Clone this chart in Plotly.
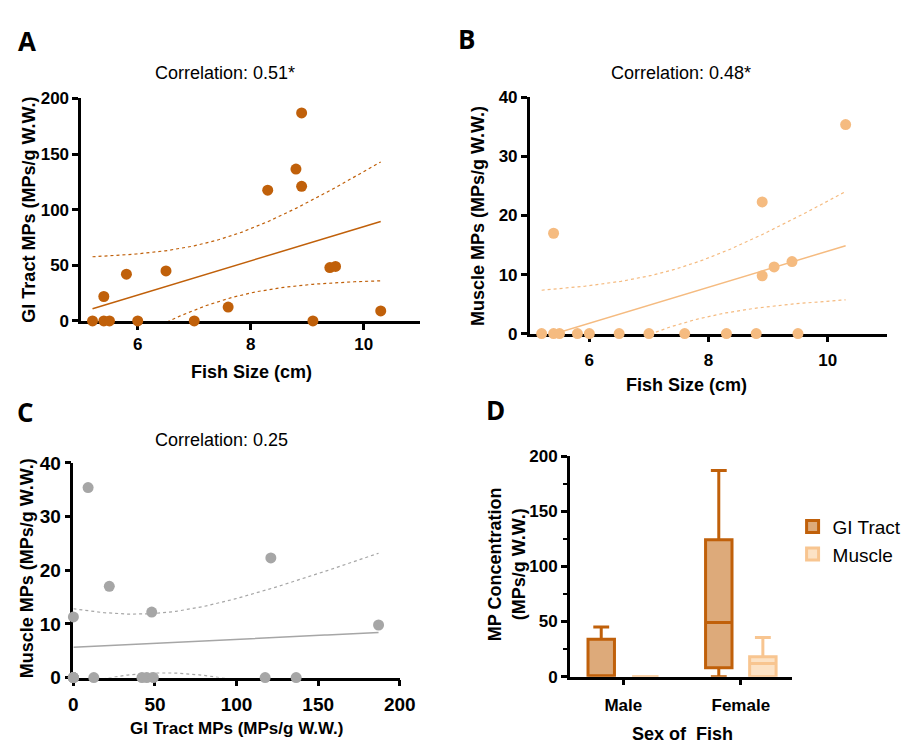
import numpy as np
import plotly.graph_objects as go

# ---------------- data ----------------
fish_size = [5.2, 5.4, 5.4, 5.5, 5.8, 6.0, 6.5, 7.0, 7.6, 8.3, 8.8, 8.9, 8.9, 9.1, 9.4, 9.5, 10.3]
gi_mps = [0, 22, 0, 0, 42, 0, 45, 0, 12.5, 117.5, 136.5, 187, 121, 0, 48, 49, 9]
muscle_mps = [0, 17, 0, 0, 0, 0, 0, 0, 0, 0, 0, 9.8, 22.3, 11.3, 12.2, 0, 35.4]

corr_titles = ["Correlation: 0.51*", "Correlation: 0.48*", "Correlation: 0.25"]

sex_categories = ["Male", "Female"]
gi_box = dict(lowerfence=[0, 0], q1=[0, 8], median=[0, 49], q3=[34, 124], upperfence=[45, 187])
mus_box = dict(lowerfence=[0, 0], q1=[0, 0], median=[0, 12], q3=[0, 18], upperfence=[0, 35.4])

T_CRIT = 2.131  # t(0.975, df=15)

# ---------------- styles ----------------
W, H = 919, 744
COL_A = "#C0600A"
COL_B = "#F5BB80"
COL_C = "#A6A6A6"
GI_LINE, GI_FILL = "#C0600A", "#DDAA7A"
MU_LINE, MU_FILL = "#F8C590", "#FCE2C5"
FONT = "Liberation Sans"


def px_x(p):
    return p / W


def px_y(p):
    return 1 - p / H


def fit_band(x, y):
    x = np.asarray(x, float)
    y = np.asarray(y, float)
    n = len(x)
    b, a = np.polyfit(x, y, 1)
    resid = y - (a + b * x)
    s = np.sqrt(np.sum(resid ** 2) / (n - 2))
    xm = x.mean()
    sxx = np.sum((x - xm) ** 2)
    xs = np.linspace(x.min(), x.max(), 120)
    yh = a + b * xs
    se = s * np.sqrt(1 / n + (xs - xm) ** 2 / sxx)
    return xs, yh, yh - T_CRIT * se, yh + T_CRIT * se


fig = go.Figure()


def add_scatter_panel(x, y, col, xa, ya):
    xs, yh, lo, hi = fit_band(x, y)
    for band in (lo, hi):
        fig.add_trace(go.Scatter(x=xs, y=band, mode="lines", xaxis=xa, yaxis=ya,
                                 line=dict(color=col, width=1.2, dash="dot"),
                                 showlegend=False, hoverinfo="skip"))
    fig.add_trace(go.Scatter(x=xs, y=yh, mode="lines", xaxis=xa, yaxis=ya,
                             line=dict(color=col, width=1.5), showlegend=False))
    fig.add_trace(go.Scatter(x=x, y=y, mode="markers", xaxis=xa, yaxis=ya,
                             marker=dict(color=col, size=11, line=dict(width=0)),
                             cliponaxis=False, showlegend=False))


add_scatter_panel(fish_size, gi_mps, COL_A, "x", "y")
add_scatter_panel(fish_size, muscle_mps, COL_B, "x2", "y2")
add_scatter_panel(gi_mps, muscle_mps, COL_C, "x3", "y3")

# box plots (panel D)
fig.add_trace(go.Box(x=sex_categories, name="GI Tract", xaxis="x4", yaxis="y4",
                     fillcolor=GI_FILL, line=dict(color=GI_LINE, width=3),
                     whiskerwidth=0.6, boxpoints=False, **gi_box))
fig.add_trace(go.Box(x=sex_categories, name="Muscle", xaxis="x4", yaxis="y4",
                     fillcolor=MU_FILL, line=dict(color=MU_LINE, width=3),
                     whiskerwidth=0.6, boxpoints=False, **mus_box))

tickfont = dict(family=FONT, size=17, color="black", weight="bold")
tickfont_c = dict(family=FONT, size=19, color="black", weight="bold")
axis_common = dict(showline=True, linecolor="black", linewidth=2.5, ticks="outside",
                   ticklen=6, tickwidth=2.5, tickcolor="black", showgrid=False,
                   zeroline=False, layer="below traces")

fig.update_layout(
    width=W, height=H, margin=dict(l=0, r=0, t=0, b=0),
    paper_bgcolor="white", plot_bgcolor="white",
    boxmode="group", boxgap=0.25, boxgroupgap=0.4,
    xaxis=dict(domain=[px_x(78), px_x(425)], range=[5, 11], dtick=2, anchor="y",
               tickfont=tickfont, **axis_common),
    yaxis=dict(domain=[px_y(320), px_y(91)], range=[0, 200], dtick=50, anchor="x",
               tickfont=tickfont, **axis_common),
    xaxis2=dict(domain=[px_x(537), px_x(903)], range=[5, 11], dtick=2, anchor="y2",
                tickfont=tickfont, ticklabelstandoff=3, **axis_common),
    yaxis2=dict(domain=[px_y(333), px_y(90)], range=[0, 40], dtick=10, anchor="x2",
                tickfont=tickfont, **axis_common),
    xaxis3=dict(domain=[px_x(70), px_x(404)], range=[0, 200], dtick=50, anchor="y3",
                tickfont=tickfont_c, ticklabelstandoff=2, **axis_common),
    yaxis3=dict(domain=[px_y(687), px_y(466)], range=[0, 40], dtick=10, anchor="x3",
                tickfont=tickfont_c, **axis_common),
    xaxis4=dict(domain=[px_x(578), px_x(805)], type="category", categoryorder="array",
                categoryarray=sex_categories, range=[-0.455, 1.432], anchor="y4",
                tickfont=tickfont, ticklabelstandoff=5, **axis_common),
    yaxis4=dict(domain=[px_y(686), px_y(459)], range=[0, 200], dtick=50, anchor="x4",
                minor=dict(ticks="outside", ticklen=4, tickwidth=2, tickcolor="black", dtick=25),
                tickfont=tickfont, **axis_common),
    legend=dict(x=px_x(806), y=px_y(512), xanchor="left", yanchor="top",
                font=dict(family=FONT, size=19, color="black"), bgcolor="rgba(0,0,0,0)",
                tracegroupgap=6),
)

ann = []


def add_text(text, x, y, size=18, bold=True, angle=0, family=FONT, yanchor="middle", yabs=None):
    ann.append(dict(text=text, x=px_x(x), y=px_y(y) if yabs is None else yabs,
                    xref="paper", yref="paper",
                    showarrow=False, xanchor="center", yanchor=yanchor, textangle=angle,
                    borderpad=0,
                    font=dict(family=family, size=size, color="black",
                              weight="bold" if bold else "normal")))


# panel letters
add_text("A", 23, 32, size=26, family="Open Sans")
add_text("B", 472, 30, size=26, family="Open Sans")
add_text("C", 21, 414, size=26, family="Open Sans")
add_text("D", 502, 412, size=26, family="Open Sans")

# correlation titles
add_text(corr_titles[0], 225, 65, bold=False)
add_text(corr_titles[1], 692, 65, bold=False)
add_text(corr_titles[2], 222, 442, bold=False)

# axis titles
add_text("GI Tract MPs (MPs/g W.W.)", 237, 0, size=17, yanchor="bottom", yabs=-0.008)
add_text("GI Tract MPs (MPs/g W.W.)", 25, 205, angle=-90)
add_text("Fish Size (cm)", 252, 373)
add_text("Muscle MPs (MPs/g W.W.)", 484, 212, angle=-90)
add_text("Fish Size (cm)", 697, 386)
add_text("Muscle MPs (MPs/g W.W.)", 22, 574, angle=-90)
add_text("MP Concentration<br>(MPs/g W.W.)", 514, 570, angle=-90)
add_text("Sex of  Fish", 693, 0, yanchor="bottom", yabs=-0.016)

fig.update_layout(annotations=ann)
fig.write_html("out.html")
